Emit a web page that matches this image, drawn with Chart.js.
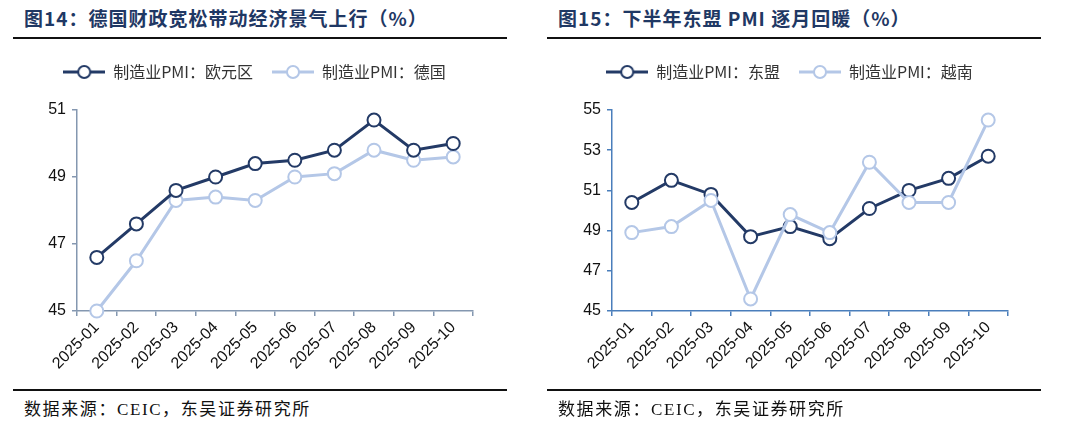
<!DOCTYPE html>
<html><head><meta charset="utf-8">
<script src="https://cdn.jsdelivr.net/npm/chart.js@4/dist/chart.umd.min.js"></script>
<style>
html,body{margin:0;padding:0;background:#fff;}
body{width:1080px;height:431px;position:relative;overflow:hidden;}
.title{position:absolute;top:6px;font-family:"Noto Sans CJK SC",sans-serif;font-weight:bold;font-size:19px;color:#1f3864;letter-spacing:1px;white-space:nowrap;line-height:24px;}
.rule{position:absolute;height:2px;background:#111;}
.src{position:absolute;top:399px;font-family:"Liberation Serif","Noto Sans CJK SC",serif;font-size:17px;color:#111;white-space:nowrap;line-height:22px;letter-spacing:1.6px;}
.box{position:absolute;top:45px;width:540px;height:340px;}
</style></head><body>
<div class="title" style="left:24px">图14：德国财政宽松带动经济景气上行（%）</div>
<div class="title" style="left:558px">图15：下半年东盟 PMI 逐月回暖（%）</div>
<div class="rule" style="left:13px;width:494px;top:37px"></div>
<div class="rule" style="left:547px;width:494px;top:37px"></div>
<div class="box" style="left:0"><canvas id="c1"></canvas></div>
<div class="box" style="left:535px"><canvas id="c2"></canvas></div>
<div class="rule" style="left:13px;width:494px;top:389px"></div>
<div class="rule" style="left:547px;width:494px;top:389px"></div>
<div class="src" style="left:24px">数据来源：CEIC，东吴证券研究所</div>
<div class="src" style="left:558px">数据来源：CEIC，东吴证券研究所</div>
<script>
const months = ["2025-01","2025-02","2025-03","2025-04","2025-05","2025-06","2025-07","2025-08","2025-09","2025-10"];
const euroPMI = [46.6,47.6,48.6,49.0,49.4,49.5,49.8,50.7,49.8,50.0];
const germanyPMI = [45.0,46.5,48.3,48.4,48.3,49.0,49.1,49.8,49.5,49.6];
const aseanPMI = [50.4,51.5,50.8,48.7,49.2,48.6,50.1,51.0,51.6,52.7];
const vietnamPMI = [48.9,49.2,50.5,45.6,49.8,48.9,52.4,50.4,50.4,54.5];
const leftTicks = [45,47,49,51];
const rightTicks = [45,47,49,51,53,55];

const DARK = "#233a66";
const LIGHT = "#b4c7e7";

function legendIcon(color){
  const c = document.createElement("canvas");
  c.width = 42; c.height = 16;
  const x = c.getContext("2d");
  x.strokeStyle = color; x.lineWidth = 3;
  x.beginPath(); x.moveTo(0,8); x.lineTo(42,8); x.stroke();
  x.fillStyle = "#fff"; x.lineWidth = 2;
  x.beginPath(); x.arc(21,8,6,0,Math.PI*2); x.fill(); x.stroke();
  return c;
}

function ds(label, data, color, order){
  return {label, data, borderColor: color, backgroundColor: "#fff", borderWidth: 3,
    pointRadius: 6.5, pointBorderWidth: 2, pointBackgroundColor: "#fff", pointBorderColor: color,
    pointHoverRadius: 6.5, tension: 0, clip: false, order, icon: legendIcon(color)};
}

const legendHeightPlugin = {
  id: "legendHeight",
  afterInit(chart){
    const l = chart.legend;
    if (!l) return;
    const f = l.fit.bind(l);
    l.fit = function(){ f(); this.height = 65; };
  },
  afterLayout(chart){
    const l = chart.legend;
    if (!l) return;
    l.left += 18; l.right += 18;
  }
};

function makeChart(id, datasets, ticks, axisColor){
  const yMin = ticks[0], yMax = ticks[ticks.length-1];
  return new Chart(document.getElementById(id), {
    type: "line",
    data: {labels: months, datasets},
    plugins: [legendHeightPlugin],
    options: {
      responsive: true, maintainAspectRatio: false, animation: false,
      devicePixelRatio: 1,
      layout: {padding: {left: 0, right: 67, top: 0, bottom: 0}},
      plugins: {
        tooltip: {enabled: false},
        legend: {
          position: "top",
          labels: {
            usePointStyle: true, pointStyleWidth: 42, padding: 19,
            font: {family: "'Noto Sans CJK SC', sans-serif", size: 16},
            color: "#333",
            generateLabels(chart){
              return chart.data.datasets.map((d,i)=>({
                text: d.label, pointStyle: d.icon, fillStyle: "#fff", strokeStyle: d.borderColor,
                lineWidth: 0, hidden: false, datasetIndex: i, fontColor: "#333"
              }));
            }
          }
        }
      },
      scales: {
        x: {
          type: "category", offset: true,
          border: {display: true, color: axisColor, width: 1.5},
          grid: {display: true, drawOnChartArea: false, drawTicks: true, tickLength: 5, offset: true, color: axisColor, tickColor: axisColor, lineWidth: 1.5},
          ticks: {minRotation: 45, maxRotation: 45, color: "#111", padding: 2,
            font: {family: "'Liberation Sans', Arial, sans-serif", size: 16}},
          afterFit(s){ s.height = 74; }
        },
        y: {
          min: yMin, max: yMax,
          afterBuildTicks(s){ s.ticks = ticks.map(v=>({value:v})); },
          border: {display: true, color: axisColor, width: 1.5},
          grid: {display: true, drawOnChartArea: false, drawTicks: true, tickLength: 5, color: axisColor, tickColor: axisColor, lineWidth: 1.5},
          ticks: {color: "#111", padding: 6,
            font: {family: "'Liberation Sans', Arial, sans-serif", size: 16}},
          afterFit(s){ s.width = 77; }
        }
      }
    }
  });
}

makeChart("c1", [ds("制造业PMI：欧元区", euroPMI, DARK, 0), ds("制造业PMI：德国", germanyPMI, LIGHT, 1)], leftTicks, "#8497b0");
makeChart("c2", [ds("制造业PMI：东盟", aseanPMI, DARK, 1), ds("制造业PMI：越南", vietnamPMI, LIGHT, 0)], rightTicks, "#4a7ebb");
</script>
</body></html>
